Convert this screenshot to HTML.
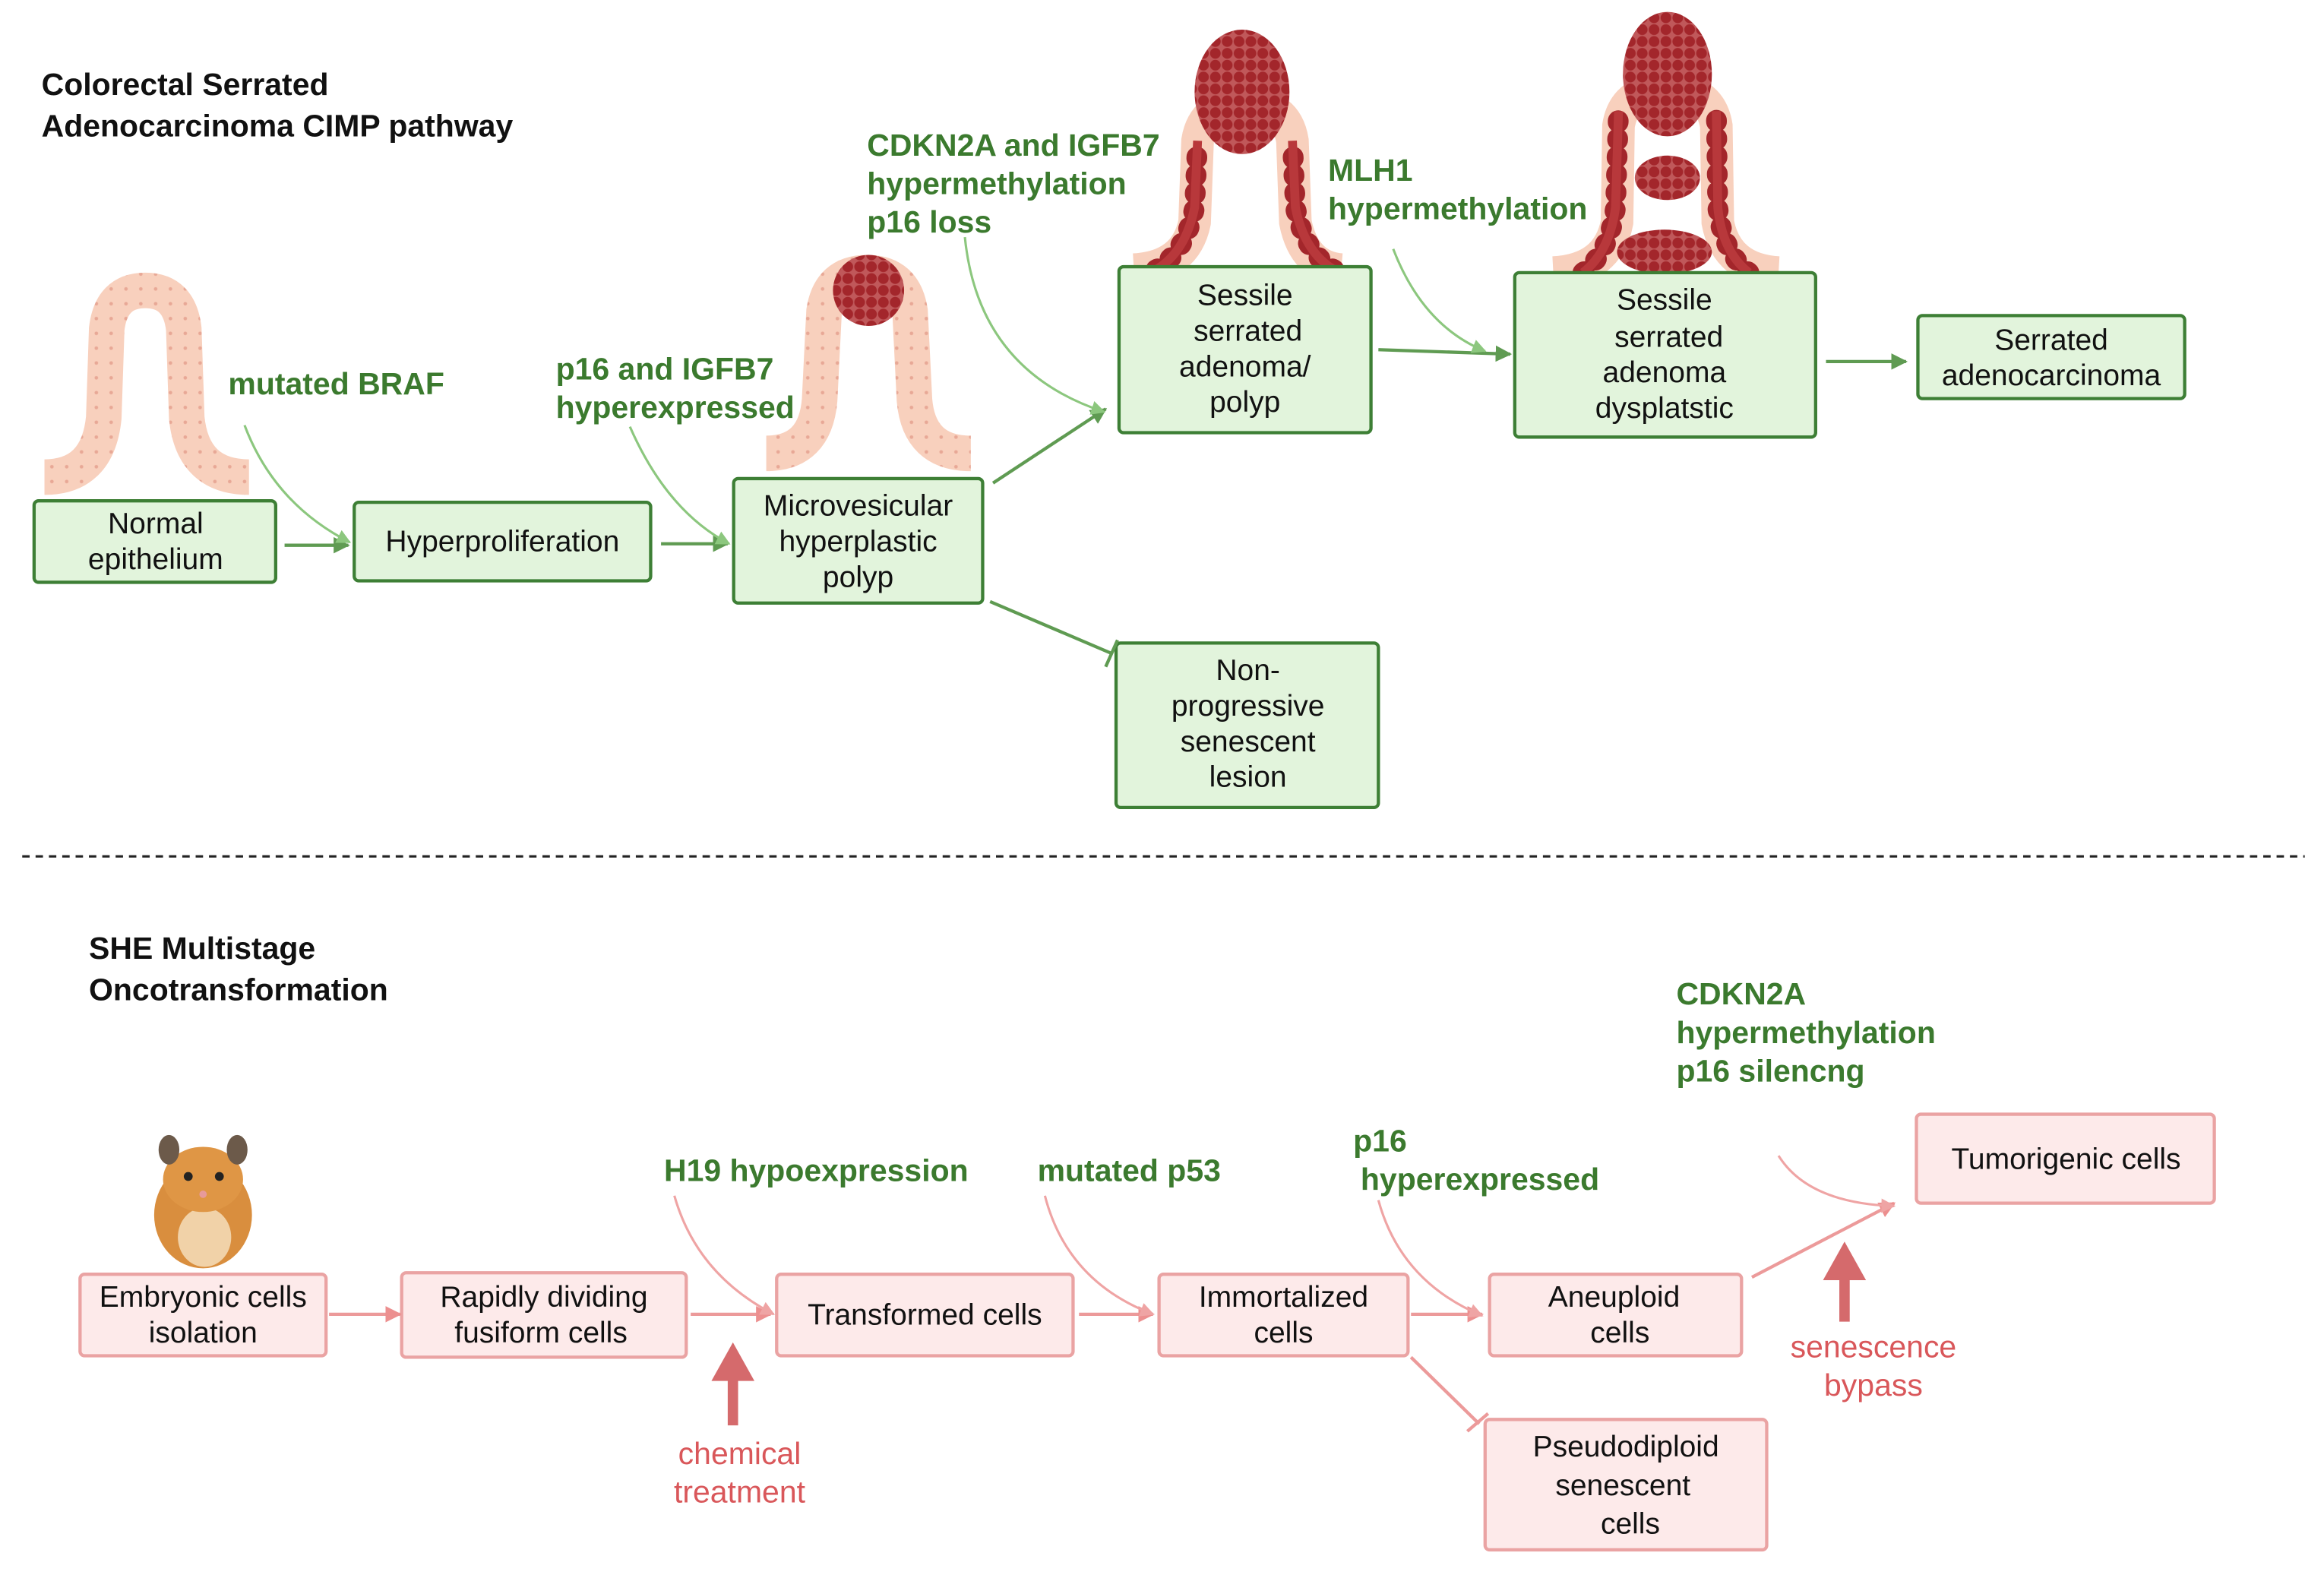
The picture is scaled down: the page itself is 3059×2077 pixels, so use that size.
<!DOCTYPE html>
<html><head><meta charset="utf-8"><style>
html,body{margin:0;padding:0;background:#fff;}
svg{display:block;}
text{font-family:"Liberation Sans",sans-serif;}
.t{font-size:21px;font-weight:bold;fill:#111;}
.g{font-size:21px;font-weight:bold;fill:#3b7a2e;}
.b{font-size:20px;fill:#111;text-anchor:middle;}
.p{font-size:21px;fill:#d9575a;text-anchor:middle;}
.gb{fill:#e2f4dc;stroke:#3d7f35;stroke-width:2.2;}
.pb{fill:#fdeaea;stroke:#eaa3a3;stroke-width:2.2;}
.ga{stroke:#5f9b52;stroke-width:2.2;fill:none;}
.gc{stroke:#8cc77e;stroke-width:1.6;fill:none;}
.pa{stroke:#ec9a9a;stroke-width:2.2;fill:none;}
.pc{stroke:#efa4a4;stroke-width:1.6;fill:none;}
</style></head><body>
<svg width="3059" height="2077" viewBox="0 0 1568 1065" preserveAspectRatio="none" xmlns="http://www.w3.org/2000/svg">
<defs>
<marker id="ag" viewBox="0 0 10 10" refX="9" refY="5" markerWidth="5" markerHeight="5" orient="auto"><path d="M0,0L10,5L0,10z" fill="#5f9b52"/></marker>
<marker id="ap" viewBox="0 0 10 10" refX="9" refY="5" markerWidth="5" markerHeight="5" orient="auto"><path d="M0,0L10,5L0,10z" fill="#ec8f8f"/></marker>
<marker id="agc" viewBox="0 0 10 10" refX="9" refY="5" markerWidth="6" markerHeight="6" orient="auto"><path d="M0,0L10,5L0,10z" fill="#8cc77e"/></marker>
<marker id="apc" viewBox="0 0 10 10" refX="9" refY="5" markerWidth="6" markerHeight="6" orient="auto"><path d="M0,0L10,5L0,10z" fill="#efa4a4"/></marker>
<pattern id="dots" width="8" height="8" patternUnits="userSpaceOnUse"><rect width="8" height="8" fill="#c0585a"/><circle cx="4" cy="4" r="3.6" fill="#a3262b"/></pattern>
<pattern id="skin" width="10" height="10" patternUnits="userSpaceOnUse"><rect width="10" height="10" fill="#f8d0bd"/><circle cx="5" cy="5" r="1.2" fill="#e8a896"/></pattern>
</defs>

<!-- titles -->
<text class="t" x="28" y="64">Colorectal Serrated</text>
<text class="t" x="28" y="92">Adenocarcinoma CIMP  pathway</text>

<!-- crypts -->
<path d="M30,322 Q66,322 70,282 L72,222 Q75,196 98,196 Q121,196 124,222 L126,282 Q130,322 168,322" stroke="url(#skin)" stroke-width="24" fill="none"/>
<path d="M517,306 Q550,306 553,270 L556,210 Q560,184 585,184 Q610,184 614,210 L617,270 Q620,306 655,306" stroke="url(#skin)" stroke-width="24" fill="none"/>
<circle cx="586" cy="196" r="24" fill="url(#dots)"/>
<!-- sessile 1 -->
<path d="M765,182 Q800,180 806,150 L808,95 Q812,70 840,70 Q868,70 872,95 L874,150 Q880,180 905,182" stroke="#f8d0bd" stroke-width="22" fill="none"/>
<path d="M780,182 Q800,170 806,140 L808,95 M900,182 Q880,170 874,140 L872,95" stroke="#a3262b" stroke-width="14" stroke-dasharray="1 11" stroke-linecap="round" fill="none"/>
<path d="M780,182 Q800,170 806,140 L808,95 M900,182 Q880,170 874,140 L872,95" stroke="#b8383b" stroke-width="6" fill="none"/>
<ellipse cx="838" cy="62" rx="32" ry="42" fill="url(#dots)"/>
<!-- sessile 2 -->
<path d="M1048,184 Q1085,182 1091,150 L1092,85 Q1096,60 1125,60 Q1154,60 1158,85 L1159,150 Q1165,182 1200,184" stroke="#f8d0bd" stroke-width="22" fill="none"/>
<path d="M1068,184 Q1086,170 1090,140 L1092,75 M1180,184 Q1162,170 1159,140 L1158,75" stroke="#a3262b" stroke-width="14" stroke-dasharray="1 11" stroke-linecap="round" fill="none"/>
<path d="M1068,184 Q1086,170 1090,140 L1092,75 M1180,184 Q1162,170 1159,140 L1158,75" stroke="#b8383b" stroke-width="6" fill="none"/>
<ellipse cx="1125" cy="50" rx="30" ry="42" fill="url(#dots)"/>
<ellipse cx="1125" cy="120" rx="22" ry="15" fill="url(#dots)"/>
<ellipse cx="1123" cy="170" rx="32" ry="15" fill="url(#dots)"/>

<!-- green boxes -->
<rect class="gb" x="23" y="338" width="163" height="55" rx="3"/>
<text class="b" x="105" y="360">Normal</text><text class="b" x="105" y="384">epithelium</text>
<rect class="gb" x="239" y="339" width="200" height="53" rx="3"/>
<text class="b" x="339" y="372">Hyperproliferation</text>
<rect class="gb" x="495" y="323" width="168" height="84" rx="3"/>
<text class="b" x="579" y="348">Microvesicular</text><text class="b" x="579" y="372">hyperplastic</text><text class="b" x="579" y="396">polyp</text>
<rect class="gb" x="755" y="180" width="170" height="112" rx="3"/>
<text class="b" x="840" y="206">Sessile</text><text class="b" x="842" y="230">serrated</text><text class="b" x="840" y="254">adenoma/</text><text class="b" x="840" y="278">polyp</text>
<rect class="gb" x="1022" y="184" width="203" height="111" rx="3"/>
<text class="b" x="1123" y="209">Sessile</text><text class="b" x="1126" y="234">serrated</text><text class="b" x="1123" y="258">adenoma</text><text class="b" x="1123" y="282">dysplatstic</text>
<rect class="gb" x="1294" y="213" width="180" height="56" rx="3"/>
<text class="b" x="1384" y="236">Serrated</text><text class="b" x="1384" y="260">adenocarcinoma</text>
<rect class="gb" x="753" y="434" width="177" height="111" rx="3"/>
<text class="b" x="842" y="459">Non-</text><text class="b" x="842" y="483">progressive</text><text class="b" x="842" y="507">senescent</text><text class="b" x="842" y="531">lesion</text>

<!-- green labels -->
<text class="g" x="154" y="266">mutated BRAF</text>
<text class="g" x="375" y="256">p16  and IGFB7</text><text class="g" x="375" y="282">hyperexpressed</text>
<text class="g" x="585" y="105">CDKN2A and IGFB7</text><text class="g" x="585" y="131">hypermethylation</text><text class="g" x="585" y="157">p16 loss</text>
<text class="g" x="896" y="122">MLH1</text><text class="g" x="896" y="148">hypermethylation</text>

<!-- green arrows -->
<line class="ga" x1="192" y1="368" x2="235" y2="368" marker-end="url(#ag)"/>
<line class="ga" x1="446" y1="367" x2="491" y2="367" marker-end="url(#ag)"/>
<line class="ga" x1="670" y1="326" x2="746" y2="276" marker-end="url(#ag)"/>
<line class="ga" x1="930" y1="236" x2="1019" y2="239" marker-end="url(#ag)"/>
<line class="ga" x1="1232" y1="244" x2="1286" y2="244" marker-end="url(#ag)"/>
<path class="gc" d="M165,287 Q185,340 236,366" marker-end="url(#agc)"/>
<path class="gc" d="M425,288 Q450,345 492,367" marker-end="url(#agc)"/>
<path class="gc" d="M651,160 Q660,250 745,278" marker-end="url(#agc)"/>
<path class="gc" d="M940,168 Q960,220 1002,237" marker-end="url(#agc)"/>
<line class="ga" x1="668" y1="406" x2="750" y2="441"/>
<line class="ga" x1="746" y1="450" x2="754" y2="432"/>

<!-- divider -->
<line x1="15" y1="578" x2="1555" y2="578" stroke="#222" stroke-width="1.6" stroke-dasharray="5 4"/>

<!-- bottom -->
<text class="t" x="60" y="647">SHE  Multistage</text>
<text class="t" x="60" y="675">Oncotransformation</text>

<!-- hamster -->
<ellipse cx="137" cy="820" rx="33" ry="36" fill="#d98e3e"/>
<ellipse cx="138" cy="835" rx="18" ry="20" fill="#f1d2a8"/>
<ellipse cx="137" cy="796" rx="27" ry="22" fill="#df9645"/>
<ellipse cx="114" cy="776" rx="7" ry="10" fill="#6c5a4a"/>
<ellipse cx="160" cy="776" rx="7" ry="10" fill="#6c5a4a"/>
<circle cx="127" cy="794" r="3" fill="#222"/><circle cx="148" cy="794" r="3" fill="#222"/>
<circle cx="137" cy="806" r="2.5" fill="#e79a9a"/>

<!-- pink boxes -->
<rect class="pb" x="54" y="860" width="166" height="55" rx="3"/>
<text class="b" x="137" y="882">Embryonic cells</text><text class="b" x="137" y="906">isolation</text>
<rect class="pb" x="271" y="859" width="192" height="57" rx="3"/>
<text class="b" x="367" y="882">Rapidly dividing</text><text class="b" x="365" y="906">fusiform cells</text>
<rect class="pb" x="524" y="860" width="200" height="55" rx="3"/>
<text class="b" x="624" y="894">Transformed cells</text>
<rect class="pb" x="782" y="860" width="168" height="55" rx="3"/>
<text class="b" x="866" y="882">Immortalized</text><text class="b" x="866" y="906">cells</text>
<rect class="pb" x="1005" y="860" width="170" height="55" rx="3"/>
<text class="b" x="1089" y="882">Aneuploid</text><text class="b" x="1093" y="906">cells</text>
<rect class="pb" x="1002" y="958" width="190" height="88" rx="3"/>
<text class="b" x="1097" y="983">Pseudodiploid</text><text class="b" x="1095" y="1009">senescent</text><text class="b" x="1100" y="1035">cells</text>
<rect class="pb" x="1293" y="752" width="201" height="60" rx="3"/>
<text class="b" x="1394" y="789">Tumorigenic cells</text>

<!-- labels -->
<text class="g" x="448" y="797">H19 hypoexpression</text>
<text class="g" x="700" y="797">mutated p53</text>
<text class="g" x="913" y="777">p16</text><text class="g" x="918" y="803">hyperexpressed</text>
<text class="g" x="1131" y="678">CDKN2A</text><text class="g" x="1131" y="704">hypermethylation</text><text class="g" x="1131" y="730">p16 silencng</text>
<text class="p" x="499" y="988">chemical</text><text class="p" x="499" y="1014">treatment</text>
<text class="p" x="1264" y="916">senescence</text><text class="p" x="1264" y="942">bypass</text>

<!-- pink arrows -->
<line class="pa" x1="222" y1="887" x2="270" y2="887" marker-end="url(#ap)"/>
<line class="pa" x1="466" y1="887" x2="520" y2="887" marker-end="url(#ap)"/>
<line class="pa" x1="728" y1="887" x2="778" y2="887" marker-end="url(#ap)"/>
<line class="pa" x1="952" y1="887" x2="1000" y2="887" marker-end="url(#ap)"/>
<line class="pa" x1="1182" y1="862" x2="1278" y2="812" marker-end="url(#ap)"/>
<path class="pc" d="M455,807 Q470,860 522,887" marker-end="url(#apc)"/>
<path class="pc" d="M705,807 Q720,865 778,887" marker-end="url(#apc)"/>
<path class="pc" d="M930,810 Q945,865 1000,888" marker-end="url(#apc)"/>
<path class="pc" d="M1200,780 Q1220,812 1278,814" marker-end="url(#apc)"/>
<line class="pa" x1="952" y1="916" x2="998" y2="961"/>
<line class="pa" x1="990" y1="966" x2="1004" y2="954"/>
<!-- big arrows -->
<rect x="491" y="930" width="7" height="32" fill="#d56a6c"/>
<path d="M480,932 L494.5,906 L509,932z" fill="#d56a6c"/>
<rect x="1241" y="862" width="7" height="30" fill="#d56a6c"/>
<path d="M1230,864 L1244.5,838 L1259,864z" fill="#d56a6c"/>
</svg>
</body></html>
